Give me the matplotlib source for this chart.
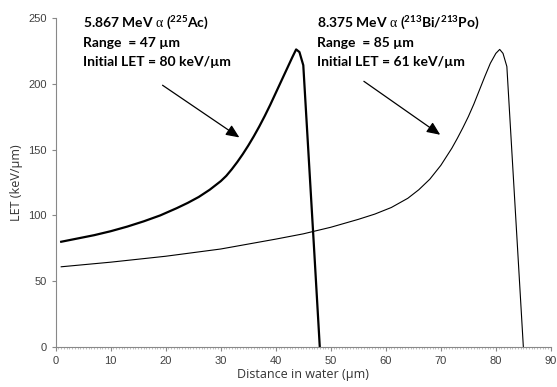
import matplotlib
matplotlib.use('Agg')
from matplotlib import pyplot as plt
from matplotlib.ticker import MultipleLocator
import numpy as np

plt.rcParams['mathtext.fontset'] = 'custom'
plt.rcParams['mathtext.rm'] = 'Lato:bold'
plt.rcParams['mathtext.bf'] = 'Lato:bold'
plt.rcParams['mathtext.it'] = 'Liberation Serif'

# 5.867 MeV alpha (225Ac)
ac_x = [1, 4, 7, 10, 13, 16, 19, 22, 24, 26, 28, 30, 31, 32, 33, 34, 35, 36, 37, 38,
        39, 40, 41, 42, 43, 43.7, 44.3, 45, 46, 47, 48]
ac_let = [80, 82.5, 85, 88, 91.5, 95.5, 100, 105.5, 109.5, 114, 119.5, 126, 130, 135, 140.5,
          146.5, 153, 160, 167.5, 175.5, 184, 193, 202, 211, 220, 226, 224, 214, 143, 72, 0]

# 8.375 MeV alpha (213Bi/213Po)
bi_x = [1, 10, 20, 30, 40, 45, 50, 55, 58, 61, 64, 66, 68, 70, 72, 73, 74, 75, 76,
        77, 78, 79, 80, 80.7, 81.3, 82, 83, 84, 85]
bi_let = [61, 64.5, 69, 74.5, 82, 86, 91, 97, 101, 106, 113, 119.5, 127.5, 138, 151, 158.5,
          166.5, 175, 184.5, 195, 205.5, 215.5, 223, 226, 223, 213, 142, 71, 0]

x_ticks = np.arange(0, 91, 10)
y_ticks = np.arange(0, 251, 50)

fig = plt.figure(figsize=(5.57, 3.87), dpi=100)
ax = fig.add_axes([0.1, 0.103, 0.889, 0.851])

ax.plot(ac_x, ac_let, color='black', lw=1.6)
ax.plot(bi_x, bi_let, color='black', lw=0.8)

ax.set_xlim(0, 90)
ax.set_ylim(0, 250)
ax.set_xticks(x_ticks)
ax.set_yticks(y_ticks)
ax.xaxis.set_minor_locator(MultipleLocator(0.5))

for s in ['top', 'right']:
    ax.spines[s].set_visible(False)
for s in ['left', 'bottom']:
    ax.spines[s].set_color('#888888')
    ax.spines[s].set_linewidth(0.8)

ax.tick_params(axis='both', which='major', direction='out', length=3,
               color='#888888', labelsize=8, labelcolor='#404040')
ax.tick_params(axis='x', which='minor', direction='out', length=1.2,
               color='#aaaaaa', width=0.5)
for lab in ax.get_xticklabels() + ax.get_yticklabels():
    lab.set_fontfamily('Liberation Sans')

ax.set_xlabel('Distance in water (µm)', fontsize=9, family='Open Sans',
              color='#333333', labelpad=1)
ax.set_ylabel('LET (keV/µm)', fontsize=9, family='Open Sans',
              color='#333333', labelpad=4)

txt = dict(fontsize=10, family='Lato', weight='bold', va='baseline', ha='left')
lines1 = [r'5.867 MeV $\alpha$ ($^{225}$Ac)', 'Range  = 47 µm', 'Initial LET = 80 keV/µm']
lines2 = [r'8.375 MeV $\alpha$ ($^{213}$Bi/$^{213}$Po)', 'Range  = 85 µm', 'Initial LET = 61 keV/µm']
ys = [242.4, 228.2, 213.6]
for t, y in zip(lines1, ys):
    ax.text(5.0, y, t, **txt)
for t, y in zip(lines2, ys):
    ax.text(47.5, y, t, **txt)

arrow = dict(arrowstyle='-|>,head_length=0.8,head_width=0.35', color='black', lw=0.9)
ax.annotate('', xy=(33.8, 158), xytext=(19.0, 200), arrowprops=arrow)
ax.annotate('', xy=(70.3, 160), xytext=(55.6, 203), arrowprops=arrow)

fig.savefig('out.png', dpi=100)
